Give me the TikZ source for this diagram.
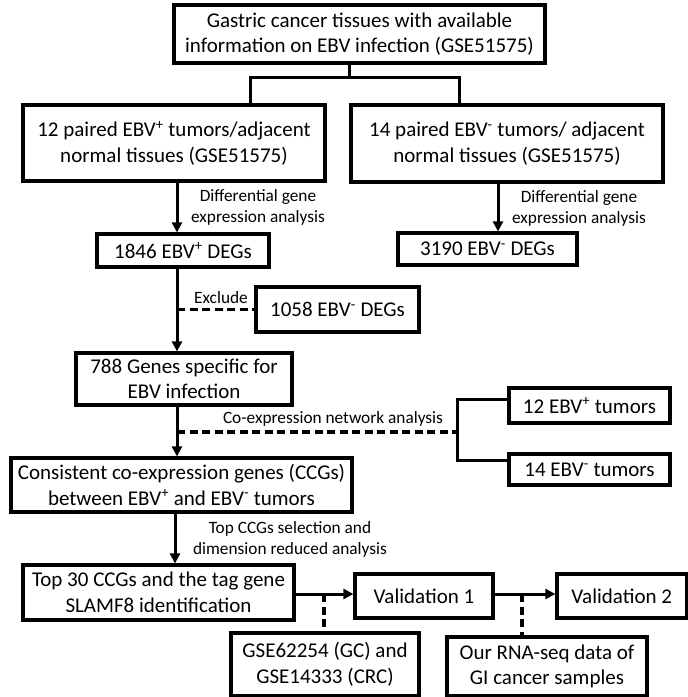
\documentclass[tikz,border=0pt]{standalone}
\usepackage{fontspec}
\setmainfont{Carlito}
\usetikzlibrary{arrows.meta}
\newcommand{\pl}{\textsuperscript{+}}
\newcommand{\mn}{\textsuperscript{-}}
\begin{document}
\begin{tikzpicture}[x=1pt,y=-1pt,
  box/.style={draw, line width=3.2pt, inner sep=0pt, align=center,
    font=\fontsize{21}{25.5}\selectfont},
  lbl/.style={inner sep=0pt, align=center, font=\fontsize{17.3}{21}\selectfont},
  conn/.style={line width=3pt},
  arr/.style={line width=3pt, -{Triangle[length=10pt,width=10pt]}},
  dsh/.style={line width=3.2pt, dash pattern=on 8pt off 4.5pt}]
\useasboundingbox (0,0) rectangle (688,697);

% boxes
\node[box, minimum width=371pt, minimum height=58pt] (top) at (359.5,34)
  {Gastric cancer tissues with available\\information on EBV infection (GSE51575)};
\node[box, minimum width=302pt, minimum height=76pt] (left) at (174,143)
  {12 paired EBV\pl{} tumors/adjacent\\normal tissues (GSE51575)};
\node[box, minimum width=312pt, minimum height=77pt] (right) at (507,143.5)
  {14 paired EBV\mn{} tumors/ adjacent\\normal tissues (GSE51575)};
\node[box, minimum width=172pt, minimum height=33pt] (degp) at (183,250.5)
  {1846 EBV\pl{} DEGs};
\node[box, minimum width=179pt, minimum height=32pt] (degm) at (487.5,249)
  {3190 EBV\mn{} DEGs};
\node[box, minimum width=163pt, minimum height=45pt] (excl) at (337.5,309.5)
  {1058 EBV\mn{} DEGs};
\node[box, minimum width=216pt, minimum height=52pt] (spec) at (184,379)
  {788 Genes specific for\\EBV infection};
\node[box, minimum width=161pt, minimum height=35pt] (tp) at (589.5,405.5)
  {12 EBV\pl{} tumors};
\node[box, minimum width=161pt, minimum height=31pt] (tm) at (589.5,469.5)
  {14 EBV\mn{} tumors};
\node[box, minimum width=341pt, minimum height=54pt] (ccg) at (181.5,485)
  {Consistent co-expression genes (CCGs)\\between EBV\pl{} and EBV\mn{} tumors};
\node[box, minimum width=271pt, minimum height=55pt] (top30) at (158.5,592.5)
  {Top 30 CCGs and the tag gene\\SLAMF8 identification};
\node[box, minimum width=138pt, minimum height=44pt] (val1) at (424,596)
  {Validation 1};
\node[box, minimum width=129.5pt, minimum height=44pt] (val2) at (621.75,596)
  {Validation 2};
\node[box, minimum width=188pt, minimum height=62.5pt] (gse) at (325,664.25)
  {GSE62254 (GC) and\\GSE14333 (CRC)};
\node[box, minimum width=200pt, minimum height=58.5pt] (our) at (547,666.25)
  {Our RNA-seq data of\\GI cancer samples};

% labels
\node[lbl] (l1) at (258,207.5) {Differential gene\\expression analysis};
\node[lbl] (l2) at (579,208.5) {Differential gene\\expression analysis};
\node[lbl] (l3) at (221,298) {Exclude};
\node[lbl] (l4) at (333,419) {Co-expression network analysis};
\node[lbl] (l5) at (290,539.5) {Top CCGs selection and\\dimension reduced analysis};

% helper coordinates
\coordinate (bj) at (349,77);
\coordinate (bl) at (250,77);
\coordinate (br) at (459,77);
\coordinate (ax) at (177,0);
\coordinate (axr) at (498,0);
\coordinate (exj) at (177,309.5);
\coordinate (coj) at (177,432);
\coordinate (cor) at (457,432);
\coordinate (bk1) at (457,399);
\coordinate (bk2) at (457,460);
\coordinate (ax2) at (175,0);
\coordinate (hy) at (0,594);
\coordinate (d1) at (324,594);
\coordinate (d2) at (522,594);

% connectors
\draw[conn] (top.south -| bj) -- (bj);
\draw[conn] (bl |- left.north) -- (bl) -- (br) -- (br |- right.north);
\draw[arr] (left.south -| ax) -- (degp.north -| ax);
\draw[arr] (right.south -| axr) -- (degm.north -| axr);
\draw[arr] (degp.south -| ax) -- (spec.north -| ax);
\draw[dsh] (exj) -- (excl.west);
\draw[arr] (spec.south -| ax) -- (ccg.north -| ax);
\draw[dsh] (coj) -- (cor);
\draw[conn] (tp.west |- bk1) -- (bk1) -- (bk2) -- (tm.west |- bk2);
\draw[arr] (ccg.south -| ax2) -- (top30.north -| ax2);
\draw[arr] (top30.east |- hy) -- (val1.west |- hy);
\draw[arr] (val1.east |- hy) -- (val2.west |- hy);
\draw[dsh] (d1) -- (gse.north -| d1);
\draw[dsh] (d2) -- (our.north -| d2);
\end{tikzpicture}
\end{document}
